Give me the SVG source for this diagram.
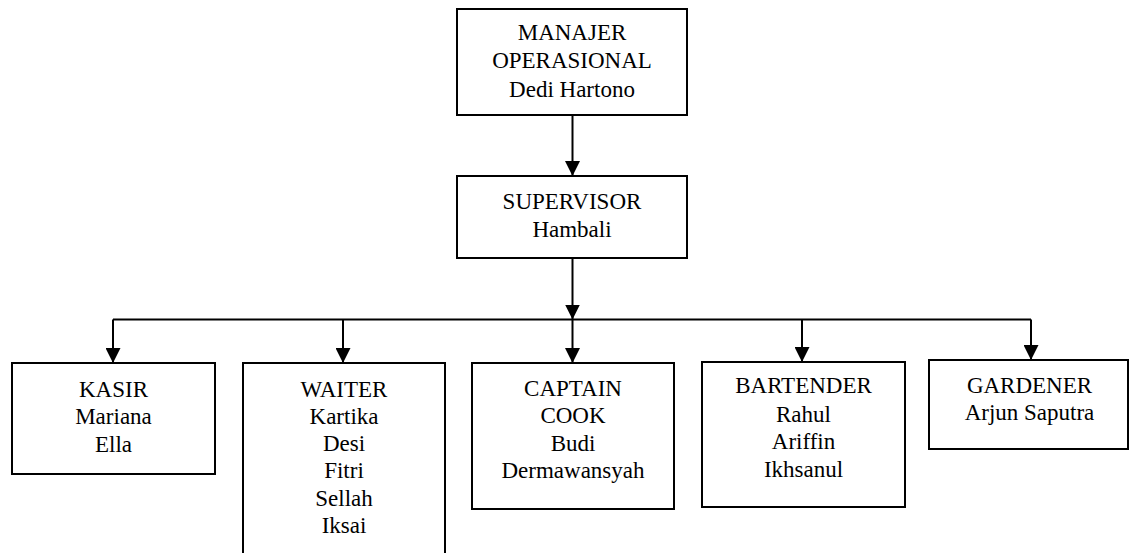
<svg xmlns="http://www.w3.org/2000/svg" width="1130" height="553" viewBox="0 0 1130 553" font-family="Liberation Serif, Times New Roman, DejaVu Serif, serif">
<style>
.box{fill:#fff;stroke:#000;stroke-width:2}
.t{font-size:23px;fill:#000;text-anchor:middle}
.c{stroke:#000;stroke-width:2;fill:none}
</style>
<defs>
<marker id="ah" markerWidth="15" markerHeight="15" viewBox="0 0 15 15" refX="15" refY="7.5" orient="auto" markerUnits="userSpaceOnUse">
<path d="M0,0 L15,7.5 L0,15 Z" fill="#000"/>
</marker>
</defs>
<g id="connectors">
<line class="c" x1="572.5" y1="115" x2="572.5" y2="176" marker-end="url(#ah)"/>
<line class="c" x1="572.5" y1="258" x2="572.5" y2="319.5" marker-end="url(#ah)"/>
<line class="c" x1="113" y1="319.5" x2="1031" y2="319.5"/>
<line class="c" x1="113" y1="319.5" x2="113" y2="363" marker-end="url(#ah)"/>
<line class="c" x1="343" y1="319.5" x2="343" y2="363" marker-end="url(#ah)"/>
<line class="c" x1="572.5" y1="319.5" x2="572.5" y2="363" marker-end="url(#ah)"/>
<line class="c" x1="802" y1="319.5" x2="802" y2="362" marker-end="url(#ah)"/>
<line class="c" x1="1031" y1="319.5" x2="1031" y2="360" marker-end="url(#ah)"/>
</g>
<g id="manajer">
<rect class="box" x="457" y="9" width="230" height="106"/>
<text class="t" x="572" y="40">MANAJER</text>
<text class="t" x="572" y="68">OPERASIONAL</text>
<text class="t" x="572" y="97">Dedi Hartono</text>
</g>
<g id="supervisor">
<rect class="box" x="457" y="176" width="230" height="82"/>
<text class="t" x="572" y="209">SUPERVISOR</text>
<text class="t" x="572" y="237">Hambali</text>
</g>
<g id="kasir">
<rect class="box" x="12" y="363" width="203" height="111"/>
<text class="t" x="113.5" y="397">KASIR</text>
<text class="t" x="113.5" y="424">Mariana</text>
<text class="t" x="113.5" y="452">Ella</text>
</g>
<g id="waiter">
<rect class="box" x="243" y="363" width="202" height="200"/>
<text class="t" x="344" y="397">WAITER</text>
<text class="t" x="344" y="424">Kartika</text>
<text class="t" x="344" y="451">Desi</text>
<text class="t" x="344" y="478">Fitri</text>
<text class="t" x="344" y="506">Sellah</text>
<text class="t" x="344" y="533">Iksai</text>
</g>
<g id="captain">
<rect class="box" x="472" y="363" width="202" height="146"/>
<text class="t" x="573" y="396">CAPTAIN</text>
<text class="t" x="573" y="423">COOK</text>
<text class="t" x="573" y="451">Budi</text>
<text class="t" x="573" y="478">Dermawansyah</text>
</g>
<g id="bartender">
<rect class="box" x="702" y="362" width="203" height="145"/>
<text class="t" x="803.5" y="393">BARTENDER</text>
<text class="t" x="803.5" y="422">Rahul</text>
<text class="t" x="803.5" y="449">Ariffin</text>
<text class="t" x="803.5" y="477">Ikhsanul</text>
</g>
<g id="gardener">
<rect class="box" x="929" y="360" width="199" height="89"/>
<text class="t" x="1029.5" y="393">GARDENER</text>
<text class="t" x="1029.5" y="420">Arjun Saputra</text>
</g>
</svg>
